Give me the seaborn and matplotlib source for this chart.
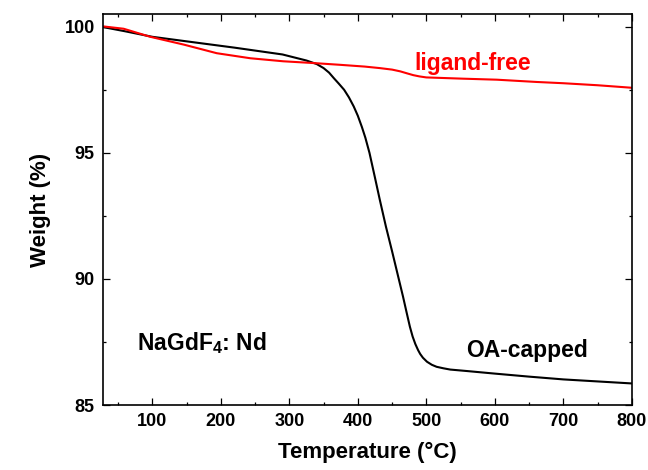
import matplotlib
matplotlib.use("Agg")
import matplotlib.pyplot as plt
import seaborn as sns
import pandas as pd
from matplotlib.ticker import MultipleLocator

# OA-capped TGA curve
oa_temp = [29, 60, 100, 150, 220, 290, 325, 340, 350, 358, 365, 372, 380, 387, 394,
           400, 406, 411, 417, 425, 432, 441, 450, 458, 466, 471, 476, 480, 484,
           488, 491, 495, 501, 508, 515, 525, 535, 560, 600, 650, 700, 750, 800]
oa_weight = [99.98, 99.82, 99.6, 99.42, 99.17, 98.9, 98.66, 98.52, 98.36, 98.18,
             97.96, 97.75, 97.5, 97.2, 96.84, 96.47, 96.02, 95.6, 95.0, 94.02,
             93.15, 92.08, 91.1, 90.2, 89.3, 88.7, 88.11, 87.72, 87.42, 87.18,
             87.03, 86.88, 86.72, 86.6, 86.52, 86.46, 86.41, 86.35, 86.25, 86.13,
             86.02, 85.94, 85.86]

# ligand-free TGA curve
lf_temp = [29, 58, 97, 146, 194, 243, 291, 335, 374, 410, 432, 450, 462, 472, 481,
           490, 500, 554, 603, 661, 700, 750, 800]
lf_weight = [100.01, 99.92, 99.6, 99.29, 98.95, 98.75, 98.63, 98.56, 98.49, 98.42,
             98.36, 98.3, 98.23, 98.15, 98.08, 98.03, 97.99, 97.94, 97.9, 97.81,
             97.76, 97.68, 97.58]

sns.set_theme(style="ticks")
plt.rcParams["font.family"] = ["Liberation Sans", "DejaVu Sans"]
plt.rcParams["font.weight"] = "bold"
plt.rcParams["text.color"] = "black"
plt.rcParams["axes.labelcolor"] = "black"
plt.rcParams["xtick.color"] = "black"
plt.rcParams["ytick.color"] = "black"
plt.rcParams["mathtext.fontset"] = "custom"
plt.rcParams["mathtext.rm"] = "Liberation Sans:bold"
plt.rcParams["mathtext.it"] = "Liberation Sans:bold"
plt.rcParams["mathtext.bf"] = "Liberation Sans:bold"

fig = plt.figure(figsize=(6.48, 4.70), dpi=100)
ax = fig.add_axes([0.159, 0.138, 0.816, 0.832])

df_oa = pd.DataFrame({"T": oa_temp, "W": oa_weight})
df_lf = pd.DataFrame({"T": lf_temp, "W": lf_weight})
sns.lineplot(data=df_oa, x="T", y="W", ax=ax, color="black", linewidth=1.5,
             estimator=None, sort=False)
sns.lineplot(data=df_lf, x="T", y="W", ax=ax, color="#ff0000", linewidth=1.5,
             estimator=None, sort=False)

ax.set_xlim(28, 800)
ax.set_ylim(85, 100.5)
ax.xaxis.set_major_locator(MultipleLocator(100))
ax.xaxis.set_minor_locator(MultipleLocator(50))
ax.yaxis.set_major_locator(MultipleLocator(5))
ax.yaxis.set_minor_locator(MultipleLocator(2.5))
ax.tick_params(which="both", direction="in", top=True, right=True, width=0.9,
               labelsize=13, pad=6, color="black", labelcolor="black")
ax.tick_params(which="major", length=5)
ax.tick_params(which="minor", length=2.5)
for lab in ax.get_xticklabels() + ax.get_yticklabels():
    lab.set_fontweight("bold")
for s in ax.spines.values():
    s.set_linewidth(1.2)
    s.set_color("black")

ax.set_xlabel("Temperature (°C)", fontsize=16, fontweight="bold", labelpad=8,
              color="black")
ax.set_ylabel("Weight (%)", fontsize=16, fontweight="bold", labelpad=10,
              color="black")

ax.text(78, 87.18, r"NaGdF$_{4}$: Nd", fontsize=16.5, fontweight="bold",
        ha="left", va="baseline", color="black")
ax.text(558, 86.89, "OA-capped", fontsize=16.5, fontweight="bold",
        ha="left", va="baseline", color="black")
ax.text(483, 98.27, "ligand-free", fontsize=16.5, fontweight="bold",
        color="#ff0000", ha="left", va="baseline")

fig.savefig("out.png", dpi=100)
